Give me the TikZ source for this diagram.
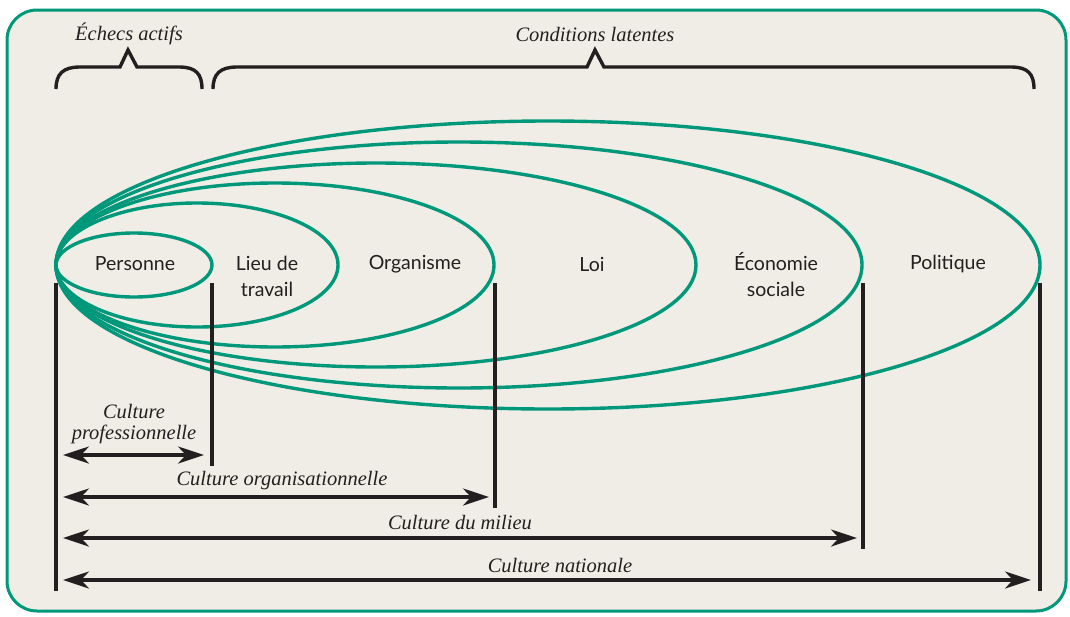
\documentclass[tikz,border=0pt]{standalone}
\usepackage{fontspec}
\usetikzlibrary{arrows.meta}
\newfontfamily\labelsans{Lato}
\newfontfamily\labelserif{Liberation Serif}
\definecolor{frameGreen}{RGB}{0,152,122}
\definecolor{paper}{RGB}{240,237,230}
\definecolor{ink}{RGB}{35,31,32}
\tikzset{
  x=1pt, y=-1pt,
  ring/.style={draw=frameGreen, line width=3.4pt},
  bar/.style={draw=ink, line width=3.4pt},
  brace/.style={draw=ink, line width=3.4pt, line join=miter},
  span/.style={draw=ink, line width=3.4pt, {Stealth[length=26pt,width=17pt,inset=8pt]}-{Stealth[length=26pt,width=17pt,inset=8pt]}},
  zone/.style={font=\labelsans\fontsize{19.5}{26}\selectfont, text=ink, align=center, inner sep=0pt},
  note/.style={font=\labelserif\itshape\fontsize{20.5}{21}\selectfont, text=ink, align=center, inner sep=0pt},
}
\begin{document}
\begin{tikzpicture}
\useasboundingbox (0,0) rectangle (1070,616);
\fill[white] (0,0) rectangle (1070,616);
\draw[draw=frameGreen, fill=paper, line width=3pt, rounded corners=30pt] (7,10) rectangle (1066,611);
% ellipses
\draw[ring] (548,265) ellipse [x radius=492, y radius=144];
\draw[ring] (459,265) ellipse [x radius=403, y radius=123];
\draw[ring] (376,265) ellipse [x radius=320, y radius=102];
\draw[ring] (275,265) ellipse [x radius=219, y radius=82];
\draw[ring] (197,265) ellipse [x radius=141, y radius=62];
\draw[ring] (134,265) ellipse [x radius=78, y radius=32];
% labels in ellipses
\node[zone] (pers) at (135,264) {Personne};
\node[zone, anchor=north] (lieu) at (267,256) {Lieu de\\travail};
\node[zone] (orga) at (415,264) {Organisme};
\node[zone] (loi) at (592,264) {Loi};
\node[zone, anchor=north] (eco) at (776,252) {Économie\\sociale};
\node[zone] (poli) at (948,264) {Politique};
% vertical bars
\coordinate (b0t) at (56,283); \coordinate (b0b) at (56,591);
\coordinate (b1t) at (212,283); \coordinate (b1b) at (212,466);
\coordinate (b2t) at (495,283); \coordinate (b2b) at (495,508);
\coordinate (b3t) at (863,283); \coordinate (b3b) at (863,549);
\coordinate (b4t) at (1040,283); \coordinate (b4b) at (1040,591);
\draw[bar] (b0t) -- (b0b);
\draw[bar] (b1t) -- (b1b);
\draw[bar] (b2t) -- (b2b);
\draw[bar] (b3t) -- (b3b);
\draw[bar] (b4t) -- (b4b);
% spans
\coordinate (s1a) at (63,455); \coordinate (s1b) at (204,455);
\coordinate (s2a) at (63,497); \coordinate (s2b) at (489,497);
\coordinate (s3a) at (63,538); \coordinate (s3b) at (857,538);
\coordinate (s4a) at (63,580); \coordinate (s4b) at (1031,580);
\draw[span] (s1a) -- (s1b);
\draw[span] (s2a) -- (s2b);
\draw[span] (s3a) -- (s3b);
\draw[span] (s4a) -- (s4b);
\node[note] (cprof) at (134,424) {Culture\\professionnelle};
\node[note] (corg) at (282,481) {Culture organisationnelle};
\node[note] (cmil) at (460,522) {Culture du milieu};
\node[note] (cnat) at (560,565) {Culture nationale};
% braces
\draw[brace] (56,89) .. controls (56,74) and (63,67) .. (80,67) -- (120,67) -- (128,50) -- (137,67) -- (179,67) .. controls (196,67) and (202,74) .. (202,89);
\draw[brace] (213,89) .. controls (213,74) and (220,67) .. (237,67) -- (587,67) -- (595,50) -- (604,67) -- (1011,67) .. controls (1028,67) and (1034,74) .. (1034,89);
\node[note] (echecs) at (129,34) {Échecs actifs};
\node[note] (cond) at (595,34) {Conditions latentes};
\end{tikzpicture}
\end{document}
